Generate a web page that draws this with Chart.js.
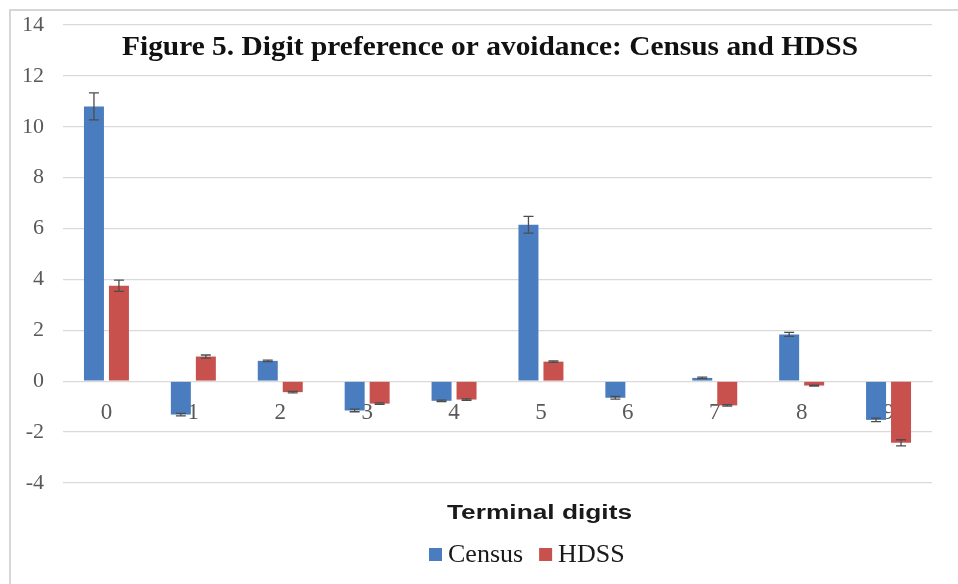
<!DOCTYPE html>
<html>
<head>
<meta charset="utf-8">
<script src="https://cdn.jsdelivr.net/npm/chart.js@4"></script>
<style>
  html, body { margin: 0; padding: 0; background: #ffffff; }
  #wrap { width: 958px; height: 584px; position: relative; }
</style>
</head>
<body>
<div id="wrap"><canvas id="c" width="958" height="584"></canvas></div>
<script>
// ---- data ----
const categories = ['0', '1', '2', '3', '4', '5', '6', '7', '8', '9'];
const censusValues = [10.8, -1.31, 0.8, -1.15, -0.77, 6.15, -0.65, 0.13, 1.84, -1.52];
const censusErrors = [0.53, 0.05, 0.03, 0.05, 0.03, 0.33, 0.05, 0.03, 0.08, 0.07];
const hdssValues = [3.75, 0.97, -0.43, -0.88, -0.72, 0.77, null, -0.95, -0.17, -2.42];
const hdssErrors = [0.22, 0.06, 0.03, 0.03, 0.03, 0.03, null, 0.03, 0.02, 0.12];
const seriesNames = ['Census', 'HDSS'];
const yTicks = [-4, -2, 0, 2, 4, 6, 8, 10, 12, 14];
const titleText = 'Figure 5. Digit preference or avoidance: Census and HDSS';
const xTitleText = 'Terminal digits';

const colors = ['#4a7dc0', '#c8504d'];

function fitText(ctx, text, x, y, targetWidth) {
  const w = ctx.measureText(text).width;
  const s = targetWidth / w;
  ctx.save();
  ctx.translate(x, y);
  ctx.scale(s, 1);
  ctx.fillText(text, 0, 0);
  ctx.restore();
}

const decorPlugin = {
  id: 'decor',
  beforeDraw(chart) {
    const ctx = chart.ctx;
    ctx.save();
    ctx.fillStyle = '#ffffff';
    ctx.fillRect(0, 0, chart.width, chart.height);
    ctx.strokeStyle = '#d6d6d6';
    ctx.lineWidth = 2;
    ctx.beginPath();
    ctx.moveTo(10, chart.height);
    ctx.lineTo(10, 10);
    ctx.lineTo(chart.width, 10);
    ctx.stroke();
    ctx.restore();
  },
  afterDatasetsDraw(chart) {
    const ctx = chart.ctx;
    const yScale = chart.scales.y;
    const errs = [censusErrors, hdssErrors];
    const vals = [censusValues, hdssValues];
    ctx.save();
    ctx.strokeStyle = '#4d4d4d';
    ctx.lineWidth = 1.3;
    chart.data.datasets.forEach((ds, di) => {
      const meta = chart.getDatasetMeta(di);
      meta.data.forEach((bar, i) => {
        const v = vals[di][i], e = errs[di][i];
        if (v === null || e === null) return;
        const x = bar.x;
        const y1 = yScale.getPixelForValue(v + e);
        const y2 = yScale.getPixelForValue(v - e);
        ctx.beginPath();
        ctx.moveTo(x, y1); ctx.lineTo(x, y2);
        ctx.moveTo(x - 5, y1); ctx.lineTo(x + 5, y1);
        ctx.moveTo(x - 5, y2); ctx.lineTo(x + 5, y2);
        ctx.stroke();
      });
    });
    ctx.restore();
  },
  afterDraw(chart) {
    const ctx = chart.ctx;
    ctx.save();
    // title
    ctx.fillStyle = '#111111';
    ctx.font = 'bold 27px "Liberation Serif", "Times New Roman", serif';
    ctx.textBaseline = 'alphabetic';
    ctx.textAlign = 'left';
    fitText(ctx, titleText, 122, 55, 736);
    // x axis title
    ctx.fillStyle = '#1a1a1a';
    ctx.font = 'bold 20px "Liberation Sans", Arial, sans-serif';
    fitText(ctx, xTitleText, 447, 519, 185);
    // legend
    ctx.font = '26px "Liberation Serif", "Times New Roman", serif';
    let x = 429;
    const yMid = 554;
    chart.data.datasets.forEach((ds, i) => {
      ctx.fillStyle = ds.backgroundColor;
      ctx.fillRect(x, yMid - 6, 13, 13);
      x += 19;
      ctx.fillStyle = '#1a1a1a';
      ctx.textBaseline = 'middle';
      ctx.fillText(ds.label, x, yMid + 1);
      x += ctx.measureText(ds.label).width + 16;
    });
    ctx.restore();
  }
};

new Chart(document.getElementById('c'), {
  type: 'bar',
  data: {
    labels: categories,
    datasets: [
      { label: seriesNames[0], data: censusValues, backgroundColor: colors[0], barPercentage: 0.8, categoryPercentage: 0.575 },
      { label: seriesNames[1], data: hdssValues, backgroundColor: colors[1], barPercentage: 0.8, categoryPercentage: 0.575 }
    ]
  },
  options: {
    responsive: false,
    animation: false,
    layout: { padding: { left: 10, right: 26, top: 25, bottom: 101 } },
    plugins: {
      legend: { display: false },
      title: { display: false },
      tooltip: { enabled: false }
    },
    scales: {
      x: {
        position: { y: 0 },
        afterFit(scale) { scale.height = 0; scale.paddingLeft = 0; scale.paddingRight = 0; },
        grid: { display: false, drawTicks: false },
        border: { display: true, color: '#d9d9d9', width: 1 },
        ticks: {
          color: '#595959',
          padding: 18,
          font: { family: '"Liberation Serif", "Times New Roman", serif', size: 23 }
        }
      },
      y: {
        min: -4,
        max: 14,
        afterFit(scale) { scale.width = 53; scale.paddingTop = 0; scale.paddingBottom = 0; },
        afterBuildTicks(scale) { scale.ticks = yTicks.map(v => ({ value: v })); },
        grid: { color: '#d9d9d9', drawTicks: false, lineWidth: 1.3 },
        border: { display: false },
        ticks: {
          color: '#595959',
          padding: 19,
          font: { family: '"Liberation Serif", "Times New Roman", serif', size: 22 }
        }
      }
    }
  },
  plugins: [decorPlugin]
});
</script>
</body>
</html>
